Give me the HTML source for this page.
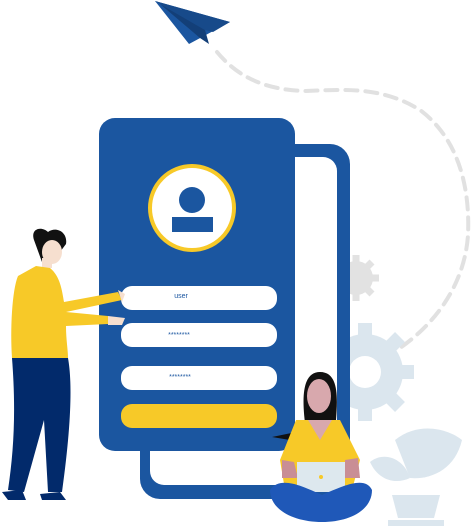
<!DOCTYPE html>
<html><head><style>html,body{margin:0;padding:0;background:#fff}svg{display:block}</style></head>
<body>
<svg width="472" height="526" viewBox="0 0 472 526" xmlns="http://www.w3.org/2000/svg" font-family="Liberation Sans, sans-serif">
<path d="M217,52 C240,80 270,90 305,91 C340,90 380,85 420,110 C460,140 470,190 468,235 C465,280 440,320 400,348" fill="none" stroke="#e1e1e1" stroke-width="4" stroke-dasharray="12,8" stroke-linecap="round"/>
<polygon points="155,1 230,22 189,44" fill="#1b56a0"/>
<polygon points="155,1 205,30 213,32 230,22" fill="#174a8a"/>
<polygon points="160,4 205,30 209,44 200,38" fill="#133f78"/>
<g fill="#e2e2e2"><circle cx="356" cy="278" r="17"/>
<g stroke="#e2e2e2" stroke-width="7"><line x1="356" y1="255" x2="356" y2="301"/><line x1="333" y1="278" x2="379" y2="278"/><line x1="340" y1="262" x2="372" y2="294"/><line x1="340" y1="294" x2="372" y2="262"/></g></g>
<g fill="#dbe6ee"><circle cx="365" cy="372" r="38"/>
<g stroke="#dbe6ee" stroke-width="14"><line x1="365" y1="323" x2="365" y2="421"/><line x1="316" y1="372" x2="414" y2="372"/><line x1="330" y1="337" x2="400" y2="407"/><line x1="330" y1="407" x2="400" y2="337"/></g>
<circle cx="365" cy="372" r="16" fill="#fff"/></g>
<g fill="#dbe6ee">
<path d="M395,440 C420,420 450,430 462,440 C455,470 430,480 410,478 Z"/>
<path d="M370,462 C385,450 405,460 410,478 C395,485 378,480 370,462 Z"/>
<path d="M392,495 L440,495 L434,518 L398,518 Z"/>
<rect x="388" y="520" width="56" height="6"/>
</g>
<rect x="140" y="144" width="210" height="355" rx="20" fill="#1b56a0"/>
<rect x="150" y="157" width="187" height="328" rx="14" fill="#fff"/>
<rect x="99" y="118" width="196" height="333" rx="16" fill="#1b56a0"/>
<circle cx="192" cy="208" r="42" fill="#fff" stroke="#f7c928" stroke-width="4"/>
<circle cx="192" cy="200" r="13" fill="#1b56a0"/>
<rect x="172" y="217" width="41" height="15" fill="#1b56a0"/>
<rect x="121" y="286" width="156" height="24" rx="11" fill="#fff"/>
<rect x="121" y="323" width="156" height="24" rx="11" fill="#fff"/>
<rect x="121" y="366" width="156" height="24" rx="11" fill="#fff"/>
<rect x="121" y="404" width="156" height="24" rx="11" fill="#f7c928"/>
<text x="181" y="298" font-size="7" fill="#1b56a0" text-anchor="middle">user</text>
<text x="179" y="337" font-size="7" fill="#1b56a0" text-anchor="middle">********</text>
<text x="180" y="379" font-size="7" fill="#1b56a0" text-anchor="middle">********</text>
<path d="M34,240 C30,228 42,226 48,232 C56,226 68,232 66,244 L60,252 L42,262 Z" fill="#111"/>
<ellipse cx="52" cy="252" rx="10" ry="12" fill="#f6dfcf"/>
<rect x="42" y="258" width="10" height="10" fill="#f6dfcf"/>
<path d="M36,266 L50,268 C60,276 62,290 64,302 L118,292 L122,300 L66,312 L108,316 L108,324 L66,326 C66,340 68,350 68,358 L12,358 C10,330 12,290 18,276 Z" fill="#f7c928"/>
<path d="M118,290 L125,294 L122,302 Z M108,316 L125,318 L122,325 L108,325 Z" fill="#f6dfcf"/>
<path d="M12,358 L68,358 C72,380 72,420 62,492 L48,492 L44,420 L24,492 L8,490 C14,450 16,410 12,358 Z" fill="#022a6b"/>
<path d="M2,492 L22,490 L26,500 L8,500 Z M40,494 L60,492 L66,500 L42,500 Z" fill="#022a6b"/>
<path d="M306,430 C300,390 305,372 320,372 C338,372 338,395 336,420 L330,435 L290,440 L272,437 Z" fill="#111"/>
<ellipse cx="319" cy="396" rx="12" ry="17" fill="#d8a8ad"/>
<path d="M296,420 L340,420 L360,460 L352,490 L285,490 L280,460 Z" fill="#f7c928"/>
<path d="M308,420 L320,440 L332,420 Z" fill="#d8a8ad"/>
<path d="M282,460 L294,462 L298,478 L282,478 Z M345,460 L358,458 L360,478 L345,478 Z" fill="#c98e95"/>
<rect x="297" y="462" width="48" height="30" fill="#dde8ee"/>
<circle cx="321" cy="477" r="2" fill="#f7c928"/>
<path d="M270,490 C280,476 300,485 322,495 C345,485 365,476 372,490 C372,510 350,522 322,522 C294,522 270,510 270,490 Z" fill="#1f58b8"/>
</svg>
</body></html>
